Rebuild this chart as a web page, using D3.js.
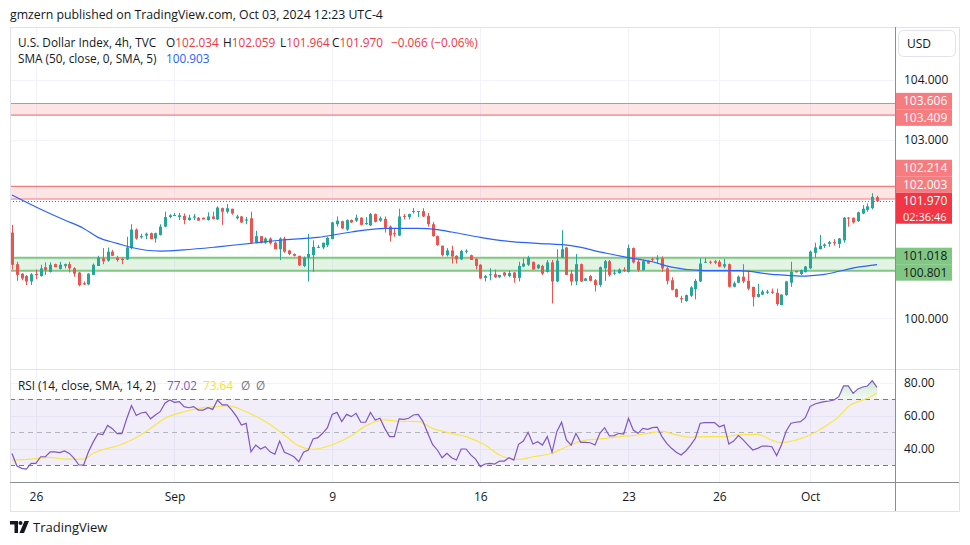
<!DOCTYPE html>
<meta charset="utf-8">
<script src="https://cdn.jsdelivr.net/npm/d3@7/dist/d3.min.js"></script>
<style>
body { margin: 0; background: #fff; }
text { font-family: "Open Sans", "Noto Sans", sans-serif; fill: #131722; }
.axis text { font-size: 12px; fill: #131722; }
.axis path, .axis line { display: none; }
.grid { stroke: #f0f3fa; stroke-width: 1; }
.legend { font-size: 11.8px; }
.plabel { font-size: 12px; }
</style>
<body>
<script>

// 4h candles, Aug 23 - Oct 3 2024
var opens = [
  101.44,100.91,100.75,100.71,100.62,100.745,100.71,100.86,100.78,100.91,
  100.83,100.88,100.91,100.84,100.77,100.59,100.57,100.73,100.88,101.01,
  100.97,101.12,101.02,101.00,100.99,101.18,101.49,101.36,101.39,101.43,
  101.34,101.40,101.54,101.70,101.73,101.70,101.72,101.65,101.69,101.69,
  101.69,101.65,101.71,101.66,101.85,101.79,101.84,101.68,101.71,101.64,
  101.68,101.28,101.38,101.27,101.34,101.27,101.16,101.34,101.14,101.08,
  101.05,100.88,101.02,101.06,101.19,101.19,101.23,101.33,101.58,101.63,
  101.49,101.65,101.64,101.69,101.58,101.56,101.75,101.64,101.67,101.54,
  101.43,101.39,101.72,101.70,101.79,101.785,101.80,101.72,101.58,101.38,
  101.22,101.06,101.14,101.05,100.99,101.125,101.06,101.00,100.90,100.68,
  100.73,100.74,100.69,100.77,100.71,100.77,100.68,100.87,100.90,100.95,
  100.84,100.88,100.78,100.94,100.62,101.02,101.19,100.75,100.62,100.91,
  100.63,100.71,100.64,100.56,100.84,100.96,100.756,100.76,100.82,100.78,
  101.18,100.95,100.81,100.96,101.00,100.99,101.01,100.84,100.64,100.49,
  100.34,100.29,100.38,100.49,100.62,100.935,100.95,100.96,100.95,100.87,
  100.91,100.53,100.60,100.70,100.63,100.53,100.36,100.40,100.43,100.45,
  100.43,100.225,100.39,100.60,100.795,100.745,100.78,100.84,101.10,101.16,
  101.215,101.25,101.28,101.25,101.31,101.69,101.69,101.63,101.76,101.82,
  101.85,102.034];
var highs = [
  101.57,100.95,100.76,100.73,100.76,100.82,100.90,100.94,100.94,100.92,
  100.95,100.92,100.95,100.86,100.78,100.62,100.76,100.92,101.05,101.18,
  101.19,101.15,101.05,101.02,101.37,101.58,101.51,101.42,101.44,101.44,
  101.44,101.58,101.79,101.75,101.77,101.77,101.76,101.74,101.75,101.70,
  101.69,101.78,101.79,101.88,101.86,101.92,101.84,101.74,101.72,101.70,
  101.79,101.47,101.38,101.36,101.36,101.29,101.36,101.37,101.15,101.09,
  101.05,101.04,101.42,101.31,101.23,101.27,101.37,101.62,101.71,101.64,
  101.66,101.66,101.74,101.70,101.70,101.77,101.76,101.71,101.71,101.56,
  101.51,101.84,101.75,101.76,101.85,101.80,101.85,101.77,101.62,101.39,
  101.22,101.18,101.22,101.06,101.15,101.16,101.07,101.01,100.91,100.73,
  100.84,100.82,100.73,100.78,100.80,100.78,100.95,101.01,101.05,100.95,
  100.91,100.90,100.98,100.98,101.16,101.48,101.20,100.81,101.08,100.92,
  100.68,100.73,100.66,100.87,100.98,100.98,100.82,100.84,100.86,101.24,
  101.19,100.98,100.98,100.97,101.02,101.06,101.04,100.86,100.69,100.50,
  100.38,100.40,100.54,100.66,101.01,101.01,100.97,100.98,100.98,101.00,
  100.92,100.62,100.72,100.91,100.80,100.53,100.58,100.48,100.48,100.50,
  100.50,100.40,100.63,100.95,100.80,100.82,100.88,101.14,101.27,101.40,
  101.26,101.30,101.33,101.35,101.70,101.70,101.69,101.79,101.90,101.93,
  102.10,102.059];
var lows = [
  100.82,100.63,100.64,100.56,100.56,100.66,100.70,100.73,100.77,100.86,
  100.82,100.84,100.77,100.70,100.54,100.56,100.56,100.73,100.88,100.91,
  100.95,101.05,100.95,100.91,100.98,101.16,101.32,101.34,101.33,101.33,
  101.27,101.39,101.53,101.68,101.72,101.65,101.58,101.64,101.65,101.64,
  101.66,101.64,101.66,101.65,101.57,101.76,101.74,101.66,101.60,101.58,
  101.26,101.26,101.26,101.25,101.24,101.16,100.98,101.10,101.06,101.04,
  100.88,100.86,100.62,100.78,101.18,101.16,101.20,101.33,101.54,101.50,
  101.47,101.60,101.62,101.56,101.57,101.55,101.61,101.62,101.44,101.29,
  101.37,101.38,101.66,101.66,101.76,101.70,101.70,101.54,101.37,101.22,
  101.04,101.04,100.92,100.92,100.98,101.09,100.98,100.82,100.66,100.62,
  100.64,100.68,100.68,100.70,100.69,100.60,100.62,100.86,100.88,100.82,
  100.83,100.73,100.77,100.25,100.61,101.01,100.73,100.55,100.56,100.61,
  100.63,100.62,100.45,100.53,100.63,100.70,100.73,100.75,100.78,100.77,
  100.92,100.78,100.80,100.92,100.95,100.92,100.78,100.57,100.47,100.35,
  100.26,100.28,100.36,100.32,100.61,100.935,100.91,100.91,100.86,100.84,
  100.52,100.52,100.59,100.59,100.47,100.20,100.35,100.39,100.41,100.41,
  100.21,100.22,100.38,100.53,100.77,100.73,100.77,100.83,101.02,101.16,
  101.18,101.20,101.22,101.18,101.27,101.54,101.59,101.62,101.75,101.79,
  101.83,101.964];
var closes = [
  100.90,100.73,100.67,100.62,100.74,100.735,100.84,100.81,100.90,100.86,
  100.90,100.91,100.84,100.75,100.56,100.57,100.75,100.90,101.02,100.96,
  101.12,101.05,100.98,100.98,101.19,101.49,101.34,101.38,101.42,101.33,
  101.43,101.54,101.70,101.73,101.735,101.73,101.65,101.69,101.71,101.64,
  101.66,101.71,101.67,101.86,101.79,101.85,101.76,101.71,101.61,101.66,
  101.27,101.38,101.27,101.34,101.26,101.16,101.34,101.12,101.08,101.05,
  100.89,101.02,101.08,101.20,101.20,101.27,101.35,101.61,101.64,101.51,
  101.65,101.61,101.69,101.57,101.60,101.75,101.62,101.68,101.52,101.39,
  101.41,101.71,101.71,101.75,101.80,101.80,101.71,101.58,101.38,101.23,
  101.06,101.14,101.04,100.99,101.13,101.135,100.98,100.88,100.67,100.71,
  100.74,100.69,100.73,100.72,100.76,100.68,100.88,100.92,101.02,100.82,
  100.90,100.75,100.94,100.62,100.97,101.16,100.73,100.62,100.91,100.62,
  100.67,100.63,100.56,100.86,100.96,100.73,100.767,100.82,100.80,101.18,
  100.94,100.81,100.96,100.92,100.99,101.01,100.84,100.63,100.48,100.36,
  100.32,100.39,100.52,100.63,100.92,100.95,100.935,100.935,100.87,100.91,
  100.53,100.59,100.70,100.62,100.50,100.36,100.41,100.45,100.45,100.43,
  100.24,100.40,100.62,100.78,100.773,100.81,100.87,101.12,101.19,101.22,
  101.24,101.28,101.26,101.34,101.69,101.68,101.61,101.78,101.84,101.88,
  102.04,101.970];
var changeText = "\u22120.066 (\u22120.06%)";

// SMA 50 read at a few bars
var smaIdx = [0,5,11,15,18,22,25,31,36,43,50,57,64,71,78,85,89,92,98,103,110,117,124,129,134,138,145,152,159,165,170,177,181];
var smaVals = [102.07,101.87,101.65,101.51,101.36,101.26,101.19,101.13,101.15,101.20,101.26,101.32,101.36,101.45,101.51,101.51,101.49,101.45,101.36,101.30,101.26,101.22,101.10,101.02,100.95,100.86,100.80,100.80,100.74,100.71,100.74,100.86,100.903];

// RSI 14, one value per bar
var rsiVals = [
  37,29.5,28,27.5,31,31,35,35,38,38,
  37.5,38.5,37,34,30,30,38,44,49,48.5,
  54,52,49,49,58,66,60,61.5,62,58,
  60.3,62.3,67.4,69.4,68,68.4,65.4,64.7,65.4,63.3,
  63.3,64.7,63.7,69.4,66.4,66.4,63.3,59.3,54.2,55.2,
  38,42.1,39.7,41.1,38,36.5,44.5,37.7,36.5,35,
  32,37.7,39,45.8,46.6,49.2,52.6,60.7,61.9,56.3,
  60.7,59.3,61.3,55.9,55.9,61.9,57.3,58.3,52.2,47.2,
  47.2,57.9,57.7,58.3,60.3,60.7,56.3,49.2,42.5,39.1,
  34.4,37.1,34.4,33.0,39.7,39.7,36.1,33.6,29.0,30.6,
  31.0,30.6,32.4,32.4,34.4,33.0,42.5,44.5,49.8,42.7,
  44.1,42.1,47.2,37.7,50.2,55.9,45.2,42.1,49.2,43.7,
  43.7,43.5,42.1,49.2,52.6,47.6,47.8,49.2,48.8,58.3,
  51.2,49.2,52.2,51.6,52.6,53.0,47.2,43.1,40.1,37.7,
  36.1,38.5,42.1,46.2,55.3,55.7,55.7,55.7,53.2,54.2,
  42.7,44.5,47.8,45.2,42.1,39.1,40.1,41.5,41.5,41.1,
  35.7,42.1,50.6,55.3,55.9,56.3,58.7,65.4,67.0,67.8,
  68.4,68.8,69.4,71.4,77.9,77.9,73.4,76.1,77.3,77.9,
  81.1,77.02];

// RSI-based MA read at a few bars
var rsiMaIdx = [0,4,8,11,15,17,20,22,25,29,32,36,39,43,45,49,53,57,60,63,67,71,74,78,81,85,88,92,95,99,102,106,109,113,116,120,123,127,130,133,136,138,142,145,149,152,156,159,161,164,167,170,173,175,179,181];
var rsiMaVals = [33.0,33.6,34.6,33.6,33.6,37.1,40.1,41.5,45.1,52.2,58.3,62.3,64.3,65.4,66.0,62.3,56.3,48.2,41.6,39.5,42.3,47.7,53.7,57.3,56.5,56.3,52.2,49.2,47.2,42.1,36.1,33.4,35.0,37.1,41.1,45.1,45.8,47.2,47.8,49.2,50.4,49.0,46.8,47.2,47.2,48.2,48.6,45.1,43.5,45.1,48.2,53.2,59.3,65.4,70.4,73.64];

// zones drawn on the chart
var resistHi = [103.606, 103.409];
var resistLo = [102.214, 102.003];
var support = [101.018, 100.801];
var lastPrice = 101.970;
var countdown = "02:36:46";

var tickIdx = [5, 34, 67, 98, 129, 148, 167];
var tickLabels = ["26", "Sep", "9", "16", "23", "26", "Oct"];
var priceGrid = [100, 101, 102, 103, 104];
var priceTicks = [100, 103, 104];   // 101 and 102 sit under the coloured labels
var rsiTicks = [40, 60, 80];

var width = 970, height = 545;
var L = 10, R = 895, FR = 959, T = 27, SEP = 369, B = 482, FB = 511;
var up = "#26a69a", down = "#ef5350";

var svg = d3.select("body").append("svg")
    .attr("width", width)
    .attr("height", height);

var x = d3.scaleLinear().domain([0, closes.length - 1]).range([12, 877]);
var y = d3.scaleLinear().domain([100, 104]).range([318.4, 80]);
var yr = d3.scaleLinear().domain([20, 80]).range([481.5, 382.5]);

var defs = svg.append("defs");
defs.append("clipPath").attr("id", "clipMain")
  .append("rect").attr("x", L).attr("y", T).attr("width", R - L).attr("height", SEP - T);
defs.append("clipPath").attr("id", "clipRsi")
  .append("rect").attr("x", L).attr("y", SEP).attr("width", R - L).attr("height", B - SEP);
defs.append("clipPath").attr("id", "clipOb")
  .append("rect").attr("x", L).attr("y", SEP).attr("width", R - L).attr("height", yr(70) - SEP);
var grad = defs.append("linearGradient").attr("id", "obGrad")
  .attr("gradientUnits", "userSpaceOnUse")
  .attr("x1", 0).attr("y1", yr(82)).attr("x2", 0).attr("y2", yr(70));
grad.append("stop").attr("offset", "0%").attr("stop-color", "rgba(76,175,80,0.3)");
grad.append("stop").attr("offset", "100%").attr("stop-color", "rgba(76,175,80,0.07)");

// grid
svg.append("g").selectAll("line").data(tickIdx).enter().append("line")
  .attr("class", "grid")
  .attr("x1", function(d) { return Math.round(x(d)) + 0.5; })
  .attr("x2", function(d) { return Math.round(x(d)) + 0.5; })
  .attr("y1", T).attr("y2", B);
svg.append("g").selectAll("line").data(priceGrid).enter().append("line")
  .attr("class", "grid")
  .attr("x1", L).attr("x2", R)
  .attr("y1", function(d) { return Math.round(y(d)) + 0.5; })
  .attr("y2", function(d) { return Math.round(y(d)) + 0.5; });
svg.append("g").selectAll("line").data(rsiTicks).enter().append("line")
  .attr("class", "grid")
  .attr("x1", L).attr("x2", R)
  .attr("y1", function(d) { return Math.round(yr(d)) + 0.5; })
  .attr("y2", function(d) { return Math.round(yr(d)) + 0.5; });

// zones
var main = svg.append("g").attr("clip-path", "url(#clipMain)");
function zone(vals, fill, line, lw) {
  main.append("rect")
    .attr("x", L).attr("width", R - L)
    .attr("y", y(vals[0])).attr("height", y(vals[1]) - y(vals[0]))
    .attr("fill", fill);
  main.selectAll(null).data(vals).enter().append("line")
    .attr("x1", L).attr("x2", R)
    .attr("y1", function(d) { return y(d); })
    .attr("y2", function(d) { return y(d); })
    .attr("stroke", line).attr("stroke-width", lw);
}
zone(resistHi, "rgba(247,124,128,0.2)", "#f77c80", 1.2);
zone(resistLo, "rgba(247,124,128,0.2)", "#f77c80", 1.2);
zone(support, "rgba(129,199,132,0.22)", "#81c784", 2);

main.append("line")
  .attr("x1", L).attr("x2", R)
  .attr("y1", Math.round(y(lastPrice)) + 0.5).attr("y2", Math.round(y(lastPrice)) + 0.5)
  .attr("stroke", "#f23645").attr("stroke-dasharray", "1,2");

// candles
var candles = d3.range(closes.length).map(function(i) {
  return {i: i, o: opens[i], h: highs[i], l: lows[i], c: closes[i]};
});
main.selectAll("line.wick").data(candles).enter().append("line")
  .attr("class", "wick")
  .attr("x1", function(d) { return Math.round(x(d.i)) + 0.5; })
  .attr("x2", function(d) { return Math.round(x(d.i)) + 0.5; })
  .attr("y1", function(d) { return y(d.h); })
  .attr("y2", function(d) { return y(d.l); })
  .attr("stroke", function(d) { return d.c >= d.o ? up : down; });
main.selectAll("rect.body").data(candles).enter().append("rect")
  .attr("class", "body")
  .attr("x", function(d) { return Math.round(x(d.i)) - 1; })
  .attr("width", 3)
  .attr("y", function(d) { return y(Math.max(d.o, d.c)); })
  .attr("height", function(d) { return Math.max(1, Math.abs(y(d.o) - y(d.c))); })
  .attr("fill", function(d) { return d.c >= d.o ? up : down; });

// SMA
var sma = smaIdx.map(function(d, i) { return [d, smaVals[i]]; });
main.append("path").datum(sma)
  .attr("fill", "none").attr("stroke", "#2962ff").attr("stroke-width", 1.2)
  .attr("d", d3.line().x(function(d) { return x(d[0]); }).y(function(d) { return y(d[1]); }).curve(d3.curveMonotoneX));

// RSI pane
var rsiG = svg.append("g").attr("clip-path", "url(#clipRsi)");
rsiG.append("rect")
  .attr("x", L).attr("width", R - L)
  .attr("y", yr(70)).attr("height", yr(30) - yr(70))
  .attr("fill", "rgba(126,87,194,0.1)");
rsiG.selectAll(null).data([70, 30]).enter().append("line")
  .attr("x1", L).attr("x2", R)
  .attr("y1", function(d) { return Math.round(yr(d)) + 0.5; })
  .attr("y2", function(d) { return Math.round(yr(d)) + 0.5; })
  .attr("stroke", "#787b86").attr("stroke-dasharray", "5,4");
rsiG.append("line")
  .attr("x1", L).attr("x2", R)
  .attr("y1", Math.round(yr(50)) + 0.5).attr("y2", Math.round(yr(50)) + 0.5)
  .attr("stroke", "#b2b5be").attr("stroke-dasharray", "5,4");

rsiG.append("path").datum(rsiVals)
  .attr("clip-path", "url(#clipOb)")
  .attr("fill", "url(#obGrad)")
  .attr("d", d3.area().x(function(d, i) { return x(i); }).y0(yr(70)).y1(function(d) { return yr(d); }));

var rsiMa = rsiMaIdx.map(function(d, i) { return [d, rsiMaVals[i]]; });
rsiG.append("path").datum(rsiMa)
  .attr("fill", "none").attr("stroke", "#f9e54a").attr("stroke-width", 1.2)
  .attr("d", d3.line().x(function(d) { return x(d[0]); }).y(function(d) { return yr(d[1]); }).curve(d3.curveMonotoneX));
rsiG.append("path").datum(rsiVals)
  .attr("fill", "none").attr("stroke", "#7e57c2").attr("stroke-width", 1.2)
  .attr("d", d3.line().x(function(d, i) { return x(i); }).y(function(d) { return yr(d); }));

// frame and separators
svg.append("rect").attr("x", L + 0.5).attr("y", T + 0.5)
  .attr("width", FR - L).attr("height", FB - T)
  .attr("fill", "none").attr("stroke", "#e0e3eb");
svg.append("line").attr("x1", L).attr("x2", FR).attr("y1", SEP + 0.5).attr("y2", SEP + 0.5)
  .attr("stroke", "#e0e3eb");
svg.append("line").attr("x1", L).attr("x2", FR).attr("y1", B + 0.5).attr("y2", B + 0.5)
  .attr("stroke", "#8a8d96");
svg.append("line").attr("x1", R + 0.5).attr("x2", R + 0.5).attr("y1", T).attr("y2", FB)
  .attr("stroke", "#8a8d96");

// axes
svg.append("g").attr("class", "axis")
  .attr("transform", "translate(" + R + ",0)")
  .call(d3.axisRight(y).tickValues(priceTicks).tickFormat(d3.format(".3f")).tickSize(0).tickPadding(9));
svg.append("g").attr("class", "axis")
  .attr("transform", "translate(" + R + ",0)")
  .call(d3.axisRight(yr).tickValues(rsiTicks).tickFormat(d3.format(".2f")).tickSize(0).tickPadding(9));
svg.append("g").attr("class", "axis")
  .attr("transform", "translate(0," + B + ")")
  .call(d3.axisBottom(x).tickValues(tickIdx).tickFormat(function(d, i) { return tickLabels[i]; }).tickSize(0).tickPadding(10));

// USD box
svg.append("rect").attr("x", 898.5).attr("y", 30.5).attr("width", 57).attr("height", 26).attr("rx", 5)
  .attr("fill", "#fff").attr("stroke", "#e0e3eb");
svg.append("text").attr("x", 907).attr("y", 48).attr("font-size", 12).text("USD");

// price labels on the scale
var labels = [];
resistHi.concat(resistLo).forEach(function(v) { labels.push({v: v, bg: "#f77c80", fg: "#fff", h: 16.5}); });
support.forEach(function(v) { labels.push({v: v, bg: "#81c784", fg: "#131722", h: 16.5}); });
labels.push({v: lastPrice, bg: "#f23645", fg: "#fff", h: 31, cur: true});
labels.forEach(function(d) { d.top = y(d.v) - 8.25; });
labels.sort(function(a, b) { return a.top - b.top; });
for (var k = 0; k < 60; k++) {
  for (var j = 0; j < labels.length - 1; j++) {
    var a = labels[j], b = labels[j + 1];
    var ov = a.top + a.h - b.top;
    if (ov > 0) {
      if (a.cur) { b.top += ov; }
      else if (b.cur) { a.top -= ov; }
      else { a.top -= ov / 2; b.top += ov / 2; }
    }
  }
}
var lg = svg.append("g").selectAll("g").data(labels).enter().append("g");
lg.append("rect")
  .attr("x", R + 1).attr("width", 56)
  .attr("y", function(d) { return d.top; })
  .attr("height", function(d) { return d.h; })
  .attr("fill", function(d) { return d.bg; });
lg.append("text").attr("class", "plabel")
  .attr("x", 903)
  .attr("y", function(d) { return d.top + 8.25; })
  .attr("dy", "0.35em")
  .style("fill", function(d) { return d.fg; })
  .text(function(d) { return d3.format(".3f")(d.v); });
lg.filter(function(d) { return d.cur; }).append("text")
  .attr("x", 903)
  .attr("y", function(d) { return d.top + 24; })
  .attr("dy", "0.35em")
  .attr("font-size", 11)
  .style("fill", "#fff")
  .text(countdown);

// legends
svg.append("text").attr("x", 10).attr("y", 19).attr("font-size", 12.3).text("gmzern published on TradingView.com, Oct 03, 2024 12:23 UTC-4");

var last = candles[candles.length - 1];
var red = "#f23645", fmt = d3.format(".3f");
var l1 = svg.append("text").attr("class", "legend").attr("y", 47);
l1.append("tspan").attr("x", 18).text("U.S. Dollar Index, 4h, TVC");
[["O", last.o, 166], ["H", last.h, 223], ["L", last.l, 280], ["C", last.c, 332]].forEach(function(p) {
  l1.append("tspan").attr("x", p[2]).text(p[0]);
  l1.append("tspan").style("fill", red).text(fmt(p[1]));
});
l1.append("tspan").attr("x", 391).style("fill", red).text(changeText);

var l2 = svg.append("text").attr("class", "legend").attr("y", 63);
l2.append("tspan").attr("x", 18).text("SMA (50, close, 0, SMA, 5)");
l2.append("tspan").attr("x", 166).style("fill", "#2962ff").text(fmt(smaVals[smaVals.length - 1]));

var l3 = svg.append("text").attr("class", "legend").attr("y", 390);
l3.append("tspan").attr("x", 18).text("RSI (14, close, SMA, 14, 2)");
l3.append("tspan").attr("x", 167).style("fill", "#7e57c2").text(d3.format(".2f")(rsiVals[rsiVals.length - 1]));
l3.append("tspan").attr("x", 203).style("fill", "#f2dd3a").text(d3.format(".2f")(rsiMaVals[rsiMaVals.length - 1]));
l3.append("tspan").attr("x", 241).style("fill", "#787b86").text("\u00d8");
l3.append("tspan").attr("x", 256).style("fill", "#787b86").text("\u00d8");

// TradingView logo
var logo = svg.append("g").attr("fill", "#131722");
logo.append("path").attr("d", "M10,521 H18 V533 H14.5 V524.5 H10 Z");
logo.append("circle").attr("cx", 20.5).attr("cy", 523).attr("r", 2);
logo.append("path").attr("d", "M24.5,521 H29 L24,533 H19.5 Z");
svg.append("text").attr("x", 33).attr("y", 532).attr("font-size", 13).text("TradingView");

</script>
</body>
